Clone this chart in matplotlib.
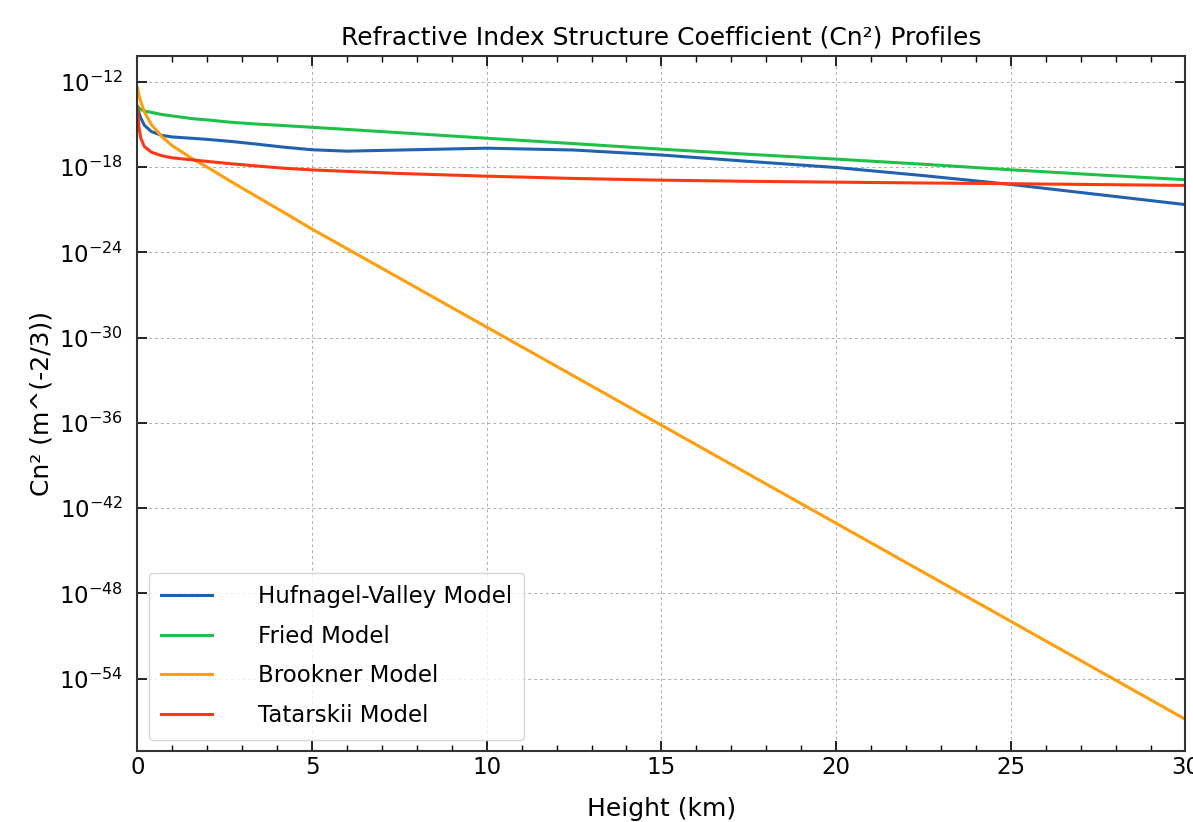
import matplotlib
matplotlib.use("Agg")
import matplotlib.pyplot as plt
import numpy as np
from matplotlib.ticker import AutoMinorLocator, NullLocator


height_km = [0, 0.05, 0.1, 0.2, 0.4, 0.7, 1, 1.6, 2, 2.7, 3.4, 4.2, 5, 6, 7.5,
             10, 12.5, 15, 17.5, 20, 22.5, 25, 27.5, 30]

# log10(Cn²) per model
hv_log = [-13.8, -14.2, -14.55, -15.05, -15.5, -15.77, -15.88, -15.98, -16.05,
          -16.2, -16.38, -16.6, -16.78, -16.88, -16.8, -16.67, -16.8, -17.15,
          -17.6, -18.03, -18.6, -19.22, -19.93, -20.64]
fried_log = [-13.7, -13.85, -13.95, -14.05, -14.15, -14.3, -14.4, -14.6, -14.68,
             -14.85, -14.97, -15.08, -15.2, -15.35, -15.58, -15.97, -16.35, -16.74,
             -17.1, -17.44, -17.8, -18.19, -18.55, -18.89]
brookner_log = [-12.4, -13.0, -13.4, -14.1, -15.0, -15.85, -16.5, -17.45, -18.0,
                -19.05, -20.05, -21.2, -22.36, -23.74, -25.81, -29.26, -32.71,
                -36.16, -39.61, -43.06, -46.51, -49.96, -53.41, -56.86]
tatarskii_log = [-13.8, -15.26, -15.96, -16.55, -16.95, -17.2, -17.35, -17.5, -17.6,
                 -17.77, -17.92, -18.08, -18.2, -18.3, -18.45, -18.64, -18.8, -18.92,
                 -19.0, -19.06, -19.12, -19.17, -19.23, -19.29]

labels = ["Hufnagel-Valley Model", "Fried Model", "Brookner Model", "Tatarskii Model"]
colors = ["#1f62ad", "#1ec04a", "#ff9e0a", "#ff3814"]

fig = plt.figure(figsize=(11.93, 8.22), dpi=100)
ax = fig.add_axes([0.1151, 0.0864, 0.8786, 0.8456])

for series, label, color in zip([hv_log, fried_log, brookner_log, tatarskii_log], labels, colors):
    ax.plot(height_km, np.power(10.0, series), label=label, color=color, linewidth=2.2)

ax.set_yscale("log")
ax.set_xlim(0, 30)

ax.xaxis.set_minor_locator(AutoMinorLocator(5))
ax.yaxis.set_minor_locator(NullLocator())
ax.tick_params(which="both", direction="in", top=True, right=True, labelsize=16.5)
ax.tick_params(which="major", length=7, width=1.2)
ax.tick_params(which="minor", length=4, width=1.0)
ax.tick_params(axis="y", pad=10)
for spine in ax.spines.values():
    spine.set_color("#333333")
    spine.set_linewidth(1.5)

ax.grid(True, which="major", linestyle=(0, (3, 3)), color="#999999", linewidth=0.7, alpha=0.8)

ax.set_xlabel("Height (km)", fontsize=18, labelpad=13)
ax.set_ylabel("Cn² (m^(-2/3))", fontsize=18, labelpad=4)
ax.set_title("Refractive Index Structure Coefficient (Cn²) Profiles", fontsize=18, pad=8)
ax.legend(loc="lower left", fontsize=16.5, labelspacing=0.72, handletextpad=2.0,
          handlelength=2.2, borderpad=0.55)

plt.savefig("out.png", dpi=100)
